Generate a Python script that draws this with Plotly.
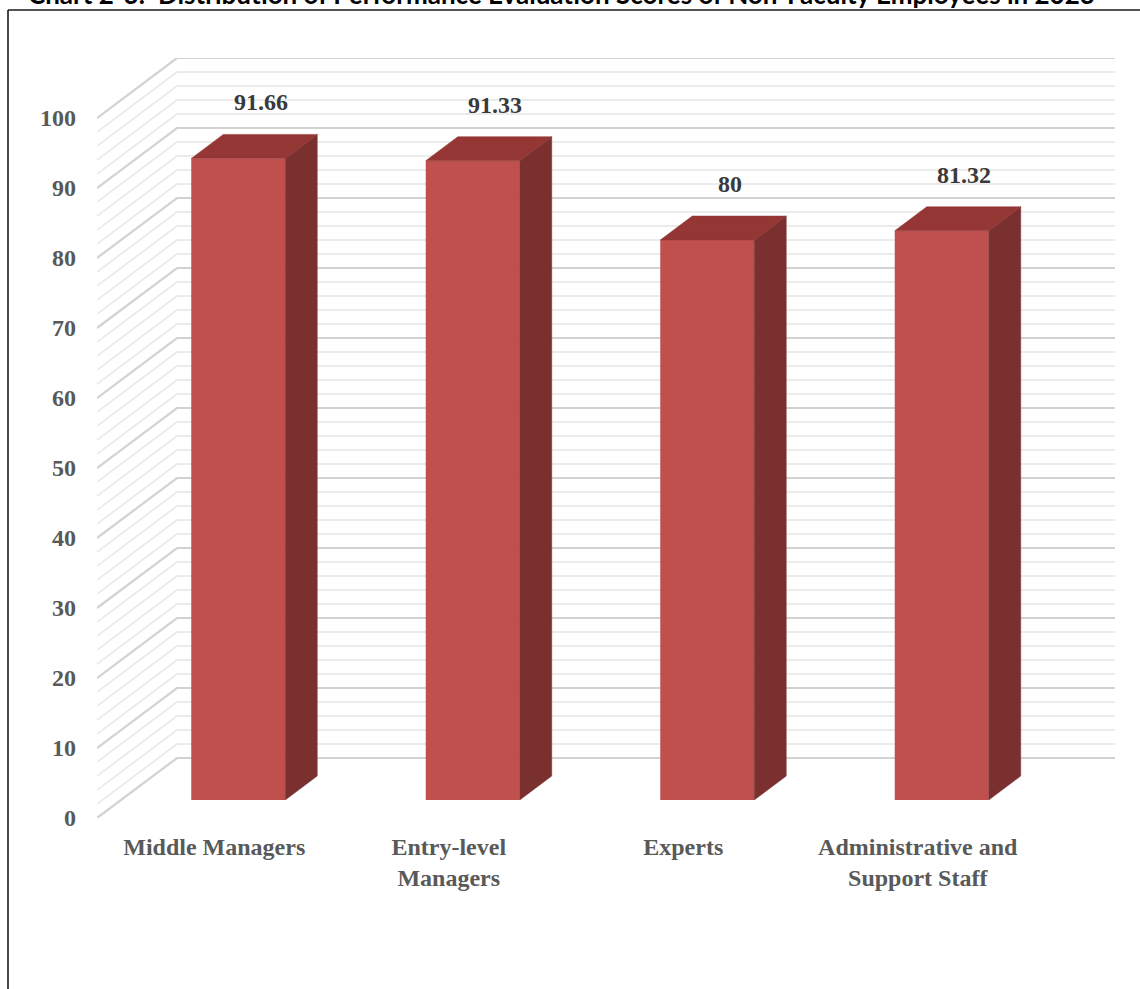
import plotly.graph_objects as go

# ---- data ----
categories = ["Middle Managers", "Entry-level<br>Managers", "Experts",
              "Administrative and<br>Support Staff"]
scores = [91.66, 91.33, 80, 81.32]
score_labels = ["91.66", "91.33", "80", "81.32"]
y_ticks = list(range(0, 101, 10))
minor_step = 2
title_text = ("Chart 2-3:  Distribution of Performance Evaluation Scores of "
              "Non-Faculty Employees in 2023")

# ---- page / plot geometry ----
W, H = 1140, 989
M_L, M_R, M_T, M_B = 97, 25, 58, 171
plot_w = W - M_L - M_R
plot_h = H - M_T - M_B
DEPTH_PX_X, DEPTH_PX_Y = 80, 60          # oblique depth of the 3-D box, px
n = len(categories)
Y_MAX = 100
kx = (plot_w - DEPTH_PX_X) / n           # px per category
ky = (plot_h - DEPTH_PX_Y) / Y_MAX       # px per score unit
DXU = DEPTH_PX_X / kx                    # depth shift in x-axis units
DYU = DEPTH_PX_Y / ky                    # depth shift in y-axis units

BAR_FRONT, BAR_BACK = 0.3, 0.7           # bar depth span (0 = front, 1 = back wall)
BAR_W = 94 / kx

FRONT = "#C0504D"
SIDE = "#7B3030"
TOP = "#943634"

X0, X1 = -0.5, n - 0.5

# ---- 3-D walls: side wall diagonals + back wall lines ----
shapes = []
for v in range(0, Y_MAX + 1, minor_step):
    major = v % 10 == 0
    path = (f"M {X0},{v} L {X0 + DXU},{v + DYU} L {X1 + DXU},{v + DYU}")
    shapes.append(dict(
        type="path", path=path, xref="x", yref="y", layer="below",
        line=dict(color="#d2d2d2" if major else "#ebebeb",
                  width=2.2 if major else 1.8),
    ))

# outer frame of the chart box
fx = lambda px: (px - M_L) / plot_w
fy = lambda py: (H - M_B - py) / plot_h
shapes.append(dict(type="line", xref="paper", yref="paper",
                   x0=fx(8), x1=fx(8), y0=fy(10), y1=fy(H + 5),
                   line=dict(color="#1a1a1a", width=1.6)))
shapes.append(dict(type="line", xref="paper", yref="paper",
                   x0=fx(8), x1=fx(W + 5), y0=fy(10), y1=fy(10),
                   line=dict(color="#1a1a1a", width=1.6)))

fig = go.Figure()

# front faces of the bars
bar_x = [i + BAR_FRONT * DXU for i in range(n)]
fig.add_trace(go.Bar(
    x=bar_x, y=scores, base=BAR_FRONT * DYU, width=BAR_W,
    marker=dict(color=FRONT, line=dict(width=0)),
    hoverinfo="skip", showlegend=False,
))

# side and top faces, derived from the same scores
dd = BAR_BACK - BAR_FRONT
side_x, side_y, top_x, top_y = [], [], [], []
for xc, v in zip(bar_x, scores):
    xl, xr = xc - BAR_W / 2, xc + BAR_W / 2
    y0 = BAR_FRONT * DYU
    yt = y0 + v
    side_x += [xr, xr + dd * DXU, xr + dd * DXU, xr, xr, None]
    side_y += [y0, y0 + dd * DYU, yt + dd * DYU, yt, y0, None]
    top_x += [xl, xr, xr + dd * DXU, xl + dd * DXU, xl, None]
    top_y += [yt, yt, yt + dd * DYU, yt + dd * DYU, yt, None]

fig.add_trace(go.Scatter(x=side_x, y=side_y, mode="lines", fill="toself",
                         fillcolor=SIDE, line=dict(color=SIDE, width=0.5),
                         hoverinfo="skip", showlegend=False))
fig.add_trace(go.Scatter(x=top_x, y=top_y, mode="lines", fill="toself",
                         fillcolor=TOP, line=dict(color=TOP, width=0.5),
                         hoverinfo="skip", showlegend=False))

serif = "Liberation Serif, Times New Roman, serif"

# value labels above each bar
annotations = []
for xc, v, lab in zip(bar_x, scores, score_labels):
    annotations.append(dict(
        x=xc + 0.28 * DXU, y=v + BAR_BACK * DYU, xref="x", yref="y",
        text=lab, showarrow=False, yshift=32, yanchor="middle",
        font=dict(family=serif, size=24, color="#3a3a3a", weight="bold"),
    ))

# chart caption along the top edge
annotations.append(dict(
    x=fx(26), y=fy(12), xref="paper", yref="paper",
    xanchor="left", yanchor="bottom", showarrow=False,
    text=title_text,
    font=dict(family="Lato, Open Sans, sans-serif", size=26,
              color="#000000", weight="bold"),
))

axis_font = dict(family=serif, size=24, color="#595959", weight="bold")

fig.update_layout(
    width=W, height=H,
    margin=dict(l=M_L, r=M_R, t=M_T, b=M_B, pad=0),
    paper_bgcolor="white", plot_bgcolor="white",
    showlegend=False,
    shapes=shapes,
    annotations=annotations,
    xaxis=dict(range=[X0, X1 + DXU], tickmode="array",
               tickvals=list(range(n)), ticktext=categories,
               showgrid=False, zeroline=False, showline=False, ticks="",
               tickfont=axis_font, ticklabelstandoff=12, fixedrange=True),
    yaxis=dict(range=[0, Y_MAX + DYU], tickmode="array",
               tickvals=y_ticks, ticktext=[str(t) for t in y_ticks],
               showgrid=False, zeroline=False, showline=False, ticks="",
               tickfont=axis_font, ticklabelstandoff=20, fixedrange=True),
)

fig.write_html("out.html")
